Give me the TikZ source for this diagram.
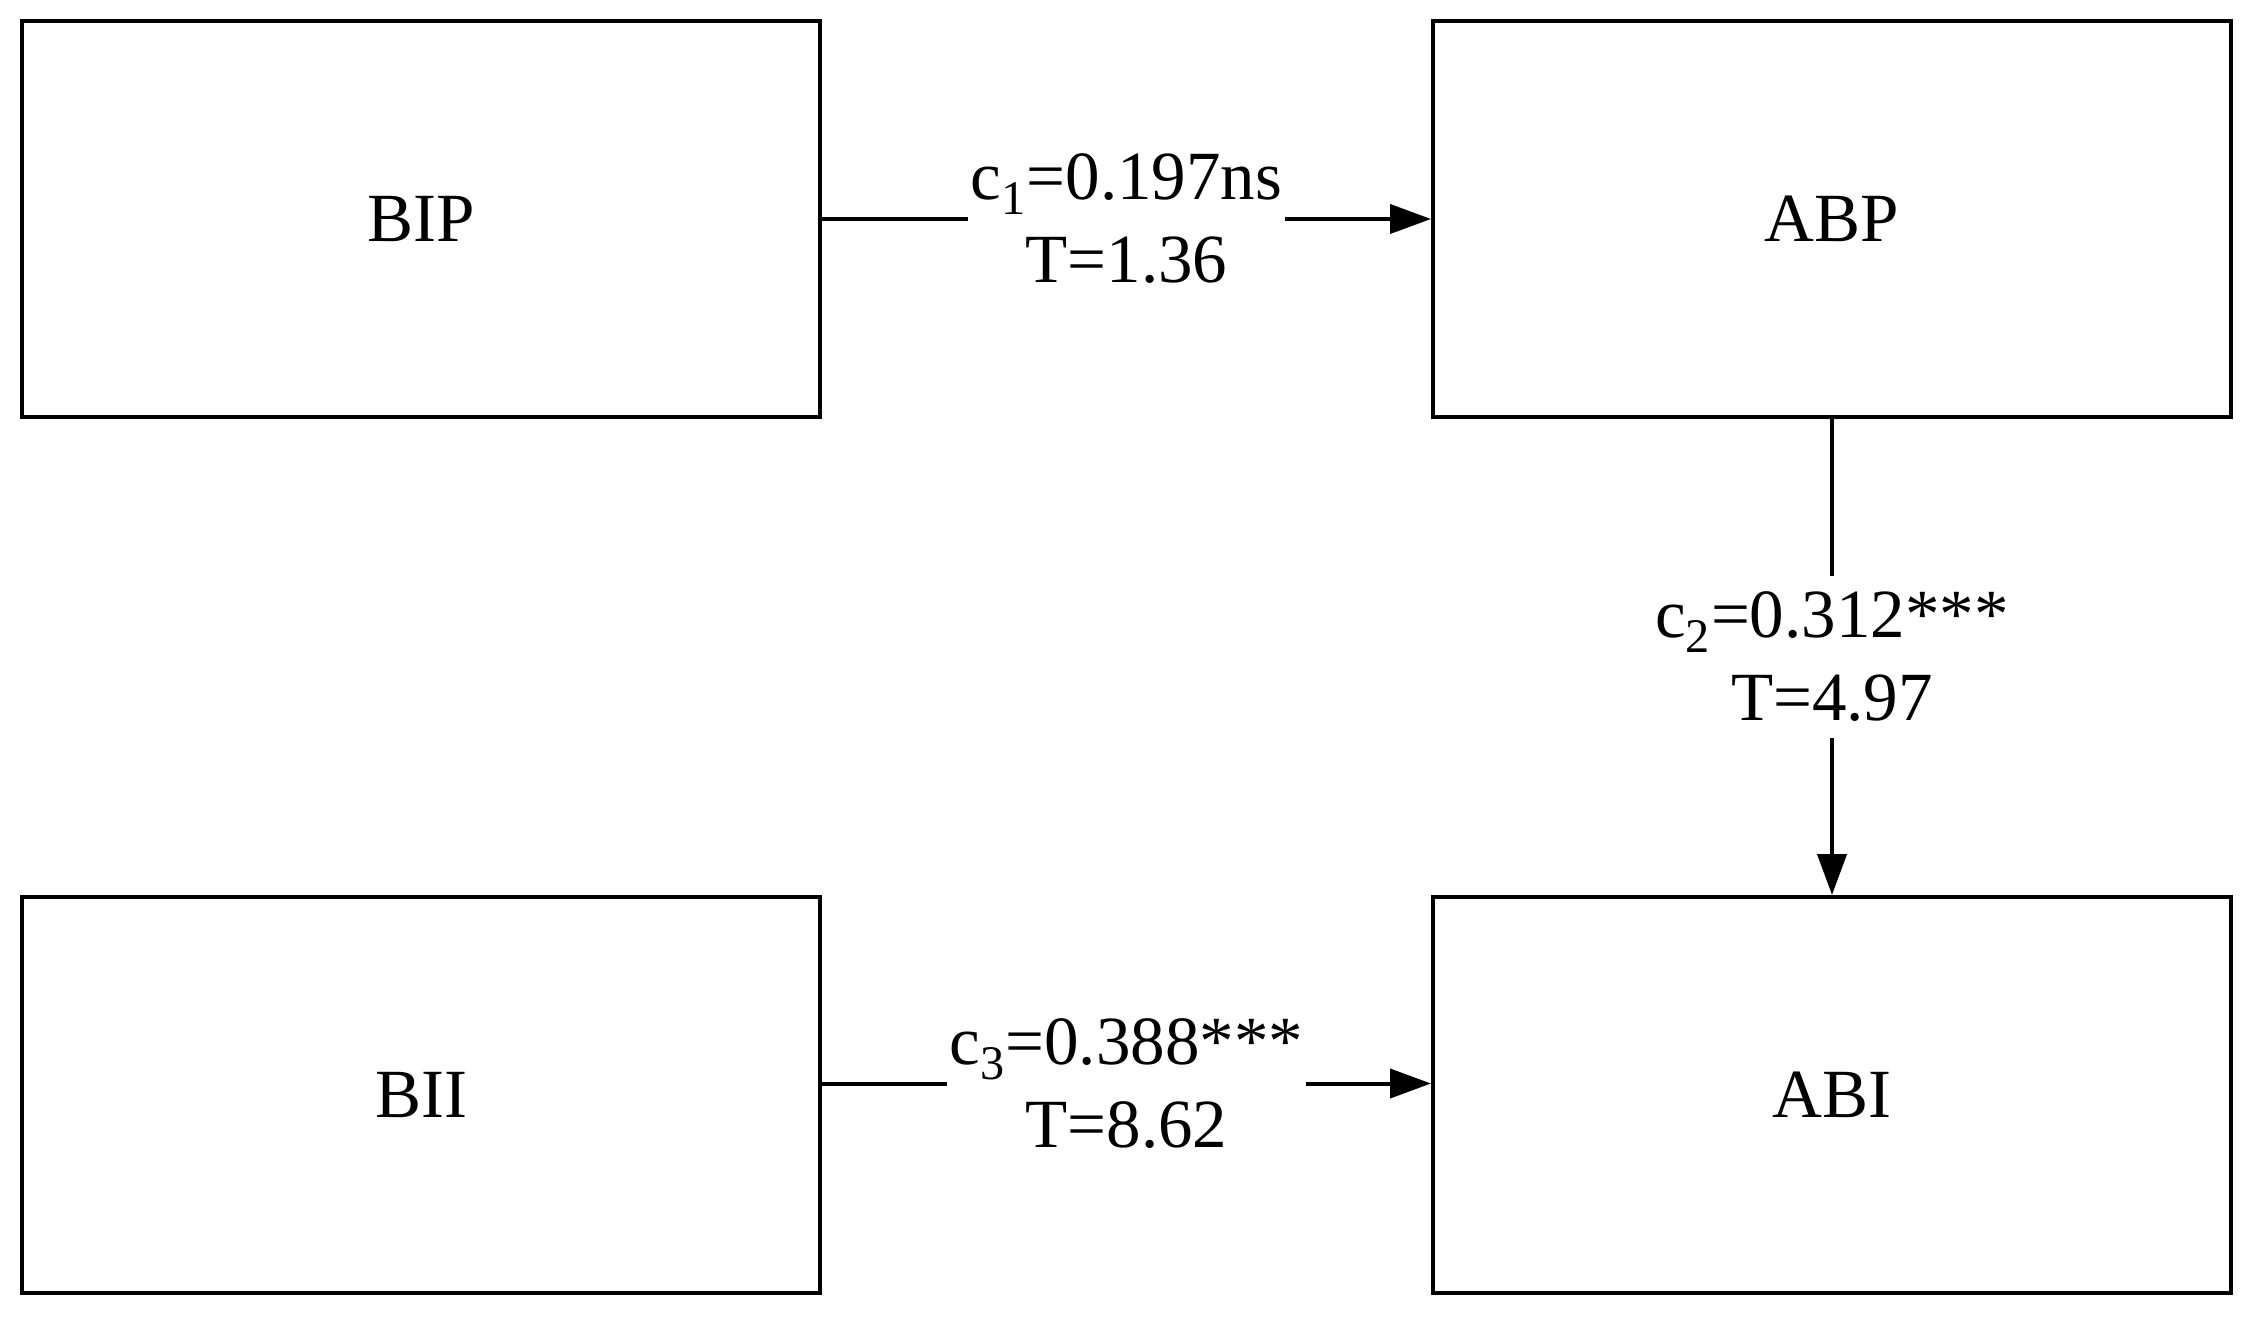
\documentclass[tikz,border=0pt]{standalone}
\usepackage{fontspec}
\setmainfont{Liberation Serif}
\usetikzlibrary{arrows.meta}
\begin{document}
\begin{tikzpicture}[x=0.5pt,y=-0.5pt,
  box/.style={draw=black, line width=2pt, rectangle, minimum width=399pt, minimum height=198pt, inner sep=0pt,
    font=\fontsize{34.5}{41.5}\selectfont},
  conn/.style={line width=2pt, -{Triangle[length=20.5pt,width=14.5pt]}},
  lbl/.style={fill=white, align=center, inner xsep=1.5pt, inner ysep=8pt,
    font=\fontsize{34.5}{41.5}\selectfont}]
\useasboundingbox (0,0) rectangle (2260,1317);
\node[box] (BIP) at (421,219) {BIP};
\node[box] (ABP) at (1832,219) {ABP};
\node[box] (BII) at (421,1095) {BII};
\node[box] (ABI) at (1832,1095) {ABI};
\draw[conn] (BIP.east) -- (ABP.west)
  node[lbl, midway] (l1) {c\textsubscript{1}=0.197ns\\T=1.36};
\draw[conn] (ABP.south) -- (ABI.north)
  node[lbl, midway] (l2) {c\textsubscript{2}=0.312***\\T=4.97};
\draw[conn] ([yshift=5.75pt]BII.east) -- ([yshift=5.75pt]ABI.west)
  node[lbl, midway] (l3) {c\textsubscript{3}=0.388***\\T=8.62};
\end{tikzpicture}
\end{document}
